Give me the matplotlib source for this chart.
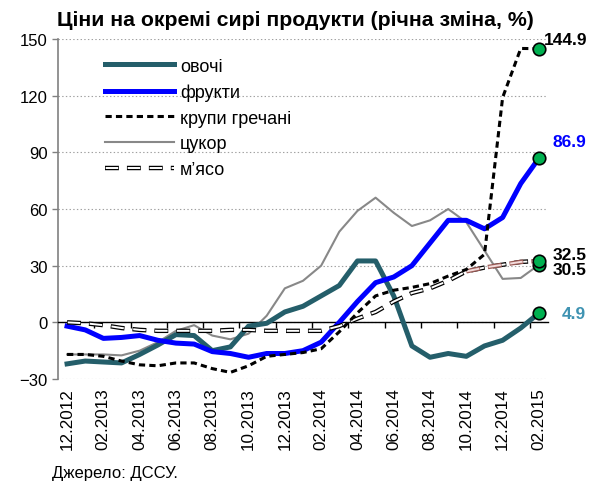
import numpy as np
import matplotlib
matplotlib.use('Agg')
import matplotlib.pyplot as plt

plt.rcParams['font.family'] = ['Liberation Sans', 'DejaVu Sans']
plt.rcParams['lines.scale_dashes'] = False

# Months 12.2012 .. 02.2015
months = ['12.2012', '01.2013', '02.2013', '03.2013', '04.2013', '05.2013', '06.2013',
          '07.2013', '08.2013', '09.2013', '10.2013', '11.2013', '12.2013', '01.2014',
          '02.2014', '03.2014', '04.2014', '05.2014', '06.2014', '07.2014', '08.2014',
          '09.2014', '10.2014', '11.2014', '12.2014', '01.2015', '02.2015']

vegetables = [-22, -20.5, -21, -21.5, -17, -12, -6.5, -7, -15, -13, -2, -0.5, 5.5, 8.5,
              14, 19.5, 32.5, 32.5, 14, -12.5, -18.5, -16.5, -18, -12.5, -9.5, -3, 4.9]
fruits = [-2, -4, -8.5, -8, -7, -9.5, -11, -11.5, -15.5, -16.5, -18.5, -16.5, -16.5, -15,
          -10.5, 0, 11, 21, 24, 30, 42, 54, 54, 49.5, 55.5, 73.5, 86.9]
buckwheat = [-17, -17, -18, -20.5, -22.5, -23, -21.5, -21.5, -24.5, -26.5, -23, -18, -17,
             -16, -14, -5, 5, 14, 17, 18.5, 20.5, 24.5, 28, 36, 119, 145, 144.9]
sugar = [-17, -17, -17, -17.5, -15, -10.5, -4.5, -1.5, -7, -9, -6, 3.5, 18, 22, 30, 48,
         59, 66, 58, 51, 54, 60, 53, 38, 23, 23.5, 30.5]
meat = [0, -0.5, -1.5, -3, -4, -4.5, -4.5, -4.5, -4.5, -4, -4, -4.5, -4.5, -4.5, -4.5,
        -2, 2, 5.5, 11, 15.5, 18, 22, 27, 29, 30.5, 32, 32.5]

labels = ['овочі', 'фрукти', 'крупи гречані', 'цукор', 'м’ясо']

x = np.arange(len(months))

fig = plt.figure(figsize=(5.9, 4.85), dpi=100)
ax = fig.add_axes([0.0983, 0.2165, 0.8305, 0.701])

# lines
l_veg, = ax.plot(x, vegetables, color='#245e6a', lw=3.6, zorder=3)
l_fr, = ax.plot(x, fruits, color='#0000ff', lw=3.6, zorder=4)
l_bw, = ax.plot(x, buckwheat, color='black', lw=2.2, linestyle=(0, (4.5, 3)), zorder=5)
l_su, = ax.plot(x, sugar, color='#888888', lw=1.5, zorder=2)
m_dark, = ax.plot(x, meat, color='black', lw=3.2, linestyle=(0, (10, 5.8)), zorder=4.5)
m_light, = ax.plot(x, meat, color='white', lw=1.4, linestyle=(15.3, (9, 6.8)), zorder=4.6)
# last part of meat series drawn in brownish tone
ax.plot(x[22:], meat[22:], color='#9a5a55', lw=3.2, linestyle=(0, (10, 5.8)), zorder=4.7)
ax.plot(x[22:], meat[22:], color='#f3dcdc', lw=1.4, linestyle=(15.3, (9, 6.8)), zorder=4.8)

# end markers
for s in [vegetables, fruits, buckwheat, sugar, meat]:
    ax.plot(x[-1], s[-1], 'o', color='#00b050', mec='black', mew=1.2, ms=9, zorder=6)

# end labels
lab_kw = dict(textcoords='offset points', ha='left', va='center', fontsize=12.5, fontweight='bold')
ax.annotate('144.9', (x[-1], buckwheat[-1]), xytext=(3.5, 6.5), color='black', **lab_kw)
ax.annotate('86.9', (x[-1], fruits[-1]), xytext=(9.5, 12), color='#0000ff', **lab_kw)
ax.annotate('32.5', (x[-1], meat[-1]), xytext=(10, 5), color='black', **lab_kw)
ax.annotate('30.5', (x[-1], sugar[-1]), xytext=(10, -3.6), color='black', **lab_kw)
ax.annotate('4.9', (x[-1], vegetables[-1]), xytext=(16.5, -0.5), color='#3f93b2', **lab_kw)

# axes
ax.set_xlim(-0.5, len(months) - 0.5)
ax.set_ylim(-30, 150)
ax.set_yticks(np.arange(-30, 151, 30))
ax.tick_params(axis='y', labelsize=12, length=4, color='#808080', width=1)
ax.yaxis.grid(True, linestyle=':', color='#a0a0a0', lw=0.8)
ax.set_axisbelow(True)

for sp in ['top', 'right']:
    ax.spines[sp].set_visible(False)
ax.spines['left'].set_color('#808080')
ax.spines['left'].set_linewidth(1.2)
ax.spines['bottom'].set_position(('data', 0))
ax.spines['bottom'].set_color('black')
ax.spines['bottom'].set_linewidth(1.0)

ax.set_xticks(x[::2])
ax.set_xticklabels(months[::2], rotation=90, fontsize=12.3)
ax.set_xticks(np.arange(1.5, len(months) - 1, 2), minor=True)
ax.tick_params(axis='x', which='major', length=0, pad=47)
ax.tick_params(axis='x', which='minor', length=4, color='black', width=1)

leg = ax.legend([l_veg, l_fr, l_bw, l_su, (m_dark, m_light)], labels,
                loc='upper left', bbox_to_anchor=(0.082, 0.966), frameon=False,
                fontsize=13, handlelength=3.8, handletextpad=0.33, labelspacing=0.48,
                borderaxespad=0)

fig.text(0.0966, 0.958, 'Ціни на окремі сирі продукти (річна зміна, %)',
         fontsize=15.3, fontweight='bold', ha='left', va='center')
fig.text(0.088, 0.023, 'Джерело: ДССУ.', fontsize=12, ha='left', va='center')

fig.savefig('out.png', dpi=100)
